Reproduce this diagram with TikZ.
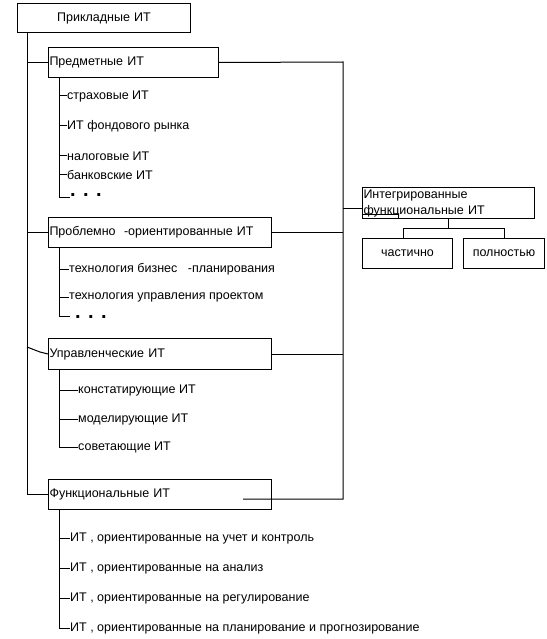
\documentclass[tikz,border=0pt]{standalone}
\usepackage{fontspec}
\setmainfont{Liberation Sans}
\begin{document}
\begin{tikzpicture}[x=1pt,y=-1pt,
  every node/.style={font=\fontsize{12.5}{15}\selectfont},
  ln/.style={line width=1pt},
  box/.style={draw,line width=1pt,rectangle,inner xsep=1pt,inner ysep=0pt,anchor=north west,align=left},
  item/.style={anchor=west,inner sep=0pt},
  dots/.style={anchor=west,inner sep=0pt,font=\fontsize{20}{20}\selectfont\bfseries}
]
\useasboundingbox (0,0) rectangle (546,639);
% boxes
\node[box,align=center,text width=171pt,minimum height=29pt] (app) at (17,3) {Прикладные ИТ\hspace*{10pt}};
\node[box,text width=168pt,minimum height=30pt] (pred) at (48,47) {Предметные ИТ};
\node[box,text width=221pt,minimum height=30pt] (prob) at (48,217) {Проблемно \ -ориентированные ИТ};
\node[box,text width=221pt,minimum height=31pt] (upr) at (48,338) {Управленческие ИТ};
\node[box,text width=221pt,minimum height=30pt] (func) at (48,479) {Функциональные ИТ};
\node[box,text width=170pt,minimum height=31pt,font=\fontsize{12.5}{16}\selectfont] (integr) at (362,187) {Интегрированные\\функциональные ИТ};
\node[box,align=center,text width=88pt,minimum height=30pt] (chast) at (362,238) {частично};
\node[box,align=center,text width=79pt,minimum height=30pt] (poln) at (463,238) {полностью};

% trunk
\coordinate (trunk) at (27,32);
\draw[ln] (trunk) |- (func.west);
\draw[ln] (trunk |- pred.west) -- (pred.west);
\draw[ln] (trunk |- prob.west) -- (prob.west);
\coordinate (uprl) at (27,347);
\coordinate (uprm) at (40,352);
\draw[ln] (uprl) -- (uprm) -- (upr.west);

% right collector
\coordinate (cr) at (343,62);
\coordinate (fend) at (243,499);
\draw[ln] (pred.east) -- (cr) |- (fend);
\draw[ln] (prob.east) -- (cr |- prob.east);
\draw[ln] (upr.east) -- (cr |- upr.east);
\coordinate (ij) at (343,208);
\draw[ln] (ij) -- (ij -| integr.west);
\coordinate (art) at (362,214);
\draw[ln] (art) -- ++(36,0) -- ++(0,4);

% integrated subtree
\coordinate (ib) at (448,228);
\draw[ln] (ib |- integr.south) -- (ib);
\coordinate (il) at (403,228);
\coordinate (ir) at (504,228);
\draw[ln] (il |- chast.north) -- (il) -- (ir) -- (ir |- poln.north);

% Predmetnye items
\node[item] (p1) at (67,96) {страховые ИТ};
\node[item] (p2) at (67,126) {ИТ фондового рынка};
\node[item] (p3) at (67,156) {налоговые ИТ};
\node[item] (p4) at (67,175) {банковские ИТ};
\node[dots] (p5) at (70,195) {. . .};
\coordinate (pv) at (59,77);
\draw[ln] (pv) |- (70,197);
\foreach \n in {p1,p2,p3,p4} \draw[ln] (pv |- \n.west) -- (\n.west);

% Problemno items
\node[item] (r1) at (69,269) {технология бизнес \ \ -планирования};
\node[item] (r2) at (69,297) {технология управления проектом};
\node[dots] (r3) at (75,317) {. . .};
\coordinate (rv) at (59,247);
\draw[ln] (rv) |- (70,316);
\foreach \n in {r1,r2} \draw[ln] (rv |- \n.west) -- (\n.west);

% Upravlencheskie items
\node[item] (u1) at (78,390) {констатирующие ИТ};
\node[item] (u2) at (78,419) {моделирующие ИТ};
\node[item] (u3) at (78,447) {советающие ИТ};
\coordinate (uv) at (59,369);
\draw[ln] (uv) |- (u3.west);
\foreach \n in {u1,u2} \draw[ln] (uv |- \n.west) -- (\n.west);

% Funktsionalnye items
\node[item] (f1) at (70,538) {ИТ , ориентированные на учет и контроль};
\node[item] (f2) at (70,568) {ИТ , ориентированные на анализ};
\node[item] (f3) at (70,598) {ИТ , ориентированные на регулирование};
\node[item] (f4) at (70,628) {ИТ , ориентированные на планирование и прогнозирование};
\coordinate (fv) at (59,509);
\draw[ln] (fv) |- (f4.west);
\foreach \n in {f1,f2,f3} \draw[ln] (fv |- \n.west) -- (\n.west);
\end{tikzpicture}
\end{document}
